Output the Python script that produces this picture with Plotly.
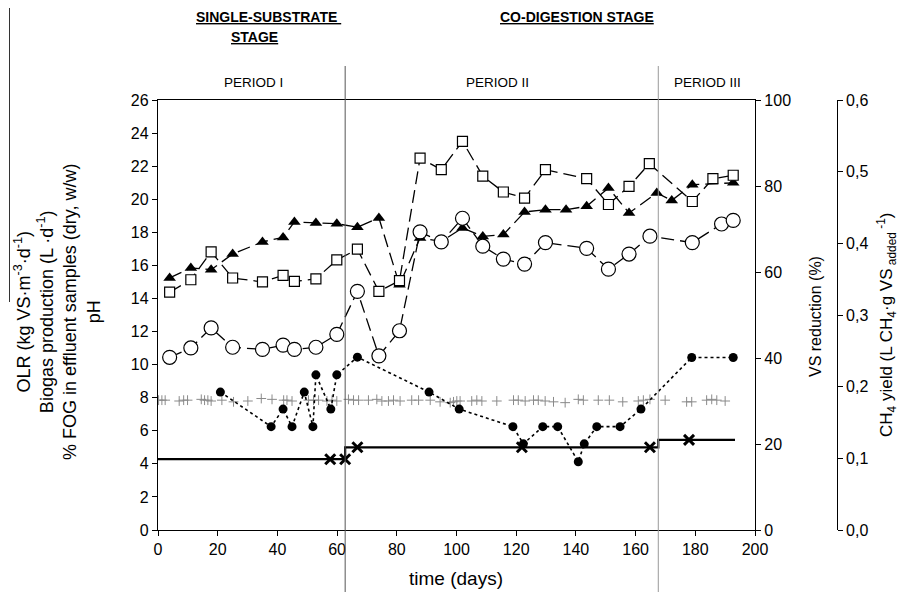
import plotly.graph_objects as go

# ---------------- data ----------------
tri_days = [3.9, 11.0, 17.8, 25.0, 35.0, 41.9, 45.7, 52.9, 59.9, 66.8, 74.0, 80.9, 87.8, 94.9,
            102.0, 108.8, 115.7, 122.8, 129.8, 136.7, 143.6, 150.9, 157.8, 167.1, 172.1, 179.0, 192.7]
biogas = [15.24, 15.84, 15.74, 16.69, 17.42, 17.69, 18.63, 18.57, 18.52, 18.31, 18.87, 14.83, 17.66, 17.45,
          18.26, 17.75, 17.86, 19.23, 19.37, 19.37, 19.57, 20.68, 19.17, 20.38, 19.93, 20.88, 20.99]

sq_days = [3.9, 11.0, 17.8, 25.0, 35.0, 41.9, 45.7, 52.9, 59.9, 66.8, 74.0, 80.9, 87.8, 94.9,
           102.0, 108.8, 115.7, 122.8, 129.8, 143.6, 150.9, 157.8, 164.6, 179.0, 185.9, 192.7]
vs_red = [55.3, 58.2, 64.7, 58.6, 57.7, 59.2, 57.8, 58.4, 62.8, 65.3, 55.5, 58.0, 86.5, 83.8,
          90.4, 82.3, 78.6, 77.2, 83.8, 81.7, 75.7, 79.9, 85.2, 76.4, 81.7, 82.5]

ci_days = [3.9, 11.0, 17.8, 25.0, 35.0, 41.9, 45.7, 52.9, 59.9, 66.8, 74.0, 80.9, 87.8, 94.9,
           102.0, 108.8, 115.7, 122.8, 129.8, 143.6, 150.9, 157.8, 164.8, 179.0, 188.8, 192.7]
ch4_yield = [0.241, 0.254, 0.282, 0.255, 0.252, 0.258, 0.252, 0.255, 0.273, 0.333, 0.243, 0.278, 0.416, 0.402,
             0.435, 0.396, 0.378, 0.371, 0.401, 0.393, 0.364, 0.385, 0.410, 0.401, 0.427, 0.432]

fog_days = [20.9, 37.9, 41.9, 44.9, 49.0, 51.9, 52.9, 57.9, 59.9, 66.8, 90.8, 100.9, 118.9, 122.4,
            128.9, 133.9, 140.8, 142.8, 147.0, 154.8, 161.8, 178.8, 192.7]
fog = [8.34, 6.25, 7.31, 6.25, 8.34, 6.25, 9.38, 7.31, 9.38, 10.45, 8.34, 7.31, 6.25, 5.21,
       6.25, 6.25, 4.13, 5.21, 6.25, 6.25, 7.31, 10.43, 10.43]

ph_days = [0.2, 1.3, 2.4, 7.1, 8.6, 9.9, 14.5, 15.6, 16.7, 17.8, 21.4, 25.3, 30.1, 34.6, 38.2, 42.1,
           43.2, 44.9, 50.4, 52.1, 53.8, 56.6, 58.3, 59.9,
           63.8, 65.5, 67.2, 70.5, 73.3, 75.0, 77.2, 78.9, 81.1, 85.0, 87.3, 91.2, 94.5, 97.9, 99.0,
           100.1, 101.2, 105.1, 106.8, 108.5, 113.5, 119.1, 120.7, 123.0, 125.8, 127.4, 129.7, 132.5,
           136.4, 140.8, 142.5, 147.5, 151.2, 155.7, 160.9, 162.6, 164.8,
           169.9, 177.1, 178.8, 183.8, 185.5, 187.2, 190.0]
ph = [7.85, 7.85, 7.85, 7.8, 7.85, 7.85, 7.9, 7.85, 7.85, 7.8, 7.85, 7.75, 7.8, 7.95, 7.9, 7.85,
      7.85, 7.8, 7.85, 7.85, 7.85, 7.8, 7.85, 7.8,
      7.9, 7.85, 7.85, 7.85, 7.9, 7.8, 7.8, 7.85, 7.8, 7.85, 7.85, 7.85, 7.75, 7.7, 7.75,
      7.8, 7.8, 7.8, 7.85, 7.8, 7.8, 7.85, 7.85, 7.8, 7.85, 7.85, 7.8, 7.75,
      7.7, 7.9, 7.85, 7.85, 7.85, 7.75, 7.8, 7.85, 7.9,
      7.85, 7.75, 7.75, 7.85, 7.9, 7.85, 7.8]

olr_days = [0, 62.7, 167.6, 193.3]
olr = [4.28, 5.0, 5.45, 5.45]
olr_pt_days = [57.7, 62.7, 66.8, 121.9, 164.8, 177.9]
olr_pt = [4.28, 4.28, 5.0, 5.0, 5.0, 5.45]

period_bounds = [62.7, 167.6]
period_labels = ["PERIOD I", "PERIOD II", "PERIOD III"]
left_ticks = list(range(0, 27, 2))
vs_ticks = [0, 20, 40, 60, 80, 100]
ch4_ticks = [0.0, 0.1, 0.2, 0.3, 0.4, 0.5, 0.6]
ch4_ticktext = ["0,0", "0,1", "0,2", "0,3", "0,4", "0,5", "0,6"]
x_ticks = list(range(0, 201, 20))

# ---------------- layout geometry ----------------
# page has an 8px body margin; figure sized to fit inside the window
OFF = 8
W, H = 914 - 2 * OFF, 603 - 2 * OFF
ML, MT = 158 - OFF, 100 - OFF
PH = 430
MB = H - MT - PH
MR = 8
PW = W - ML - MR
XDOM = 597 / PW


def px(xp):
    """page pixel x -> paper fraction"""
    return (xp - OFF - ML) / PW


def py(yp):
    """page pixel y -> paper fraction"""
    return 1 - (yp - OFF - MT) / PH


FONT = "Liberation Sans, Arial, sans-serif"
NARROW = "Liberation Sans Narrow, Arial Narrow, Liberation Sans, Arial, sans-serif"

fig = go.Figure()

dash = "13px,6px"

fig.add_trace(go.Scatter(
    x=ph_days, y=ph, mode="markers", name="pH",
    marker=dict(symbol="cross-thin-open", size=7, color="#8a8a8a",
                line=dict(color="#8a8a8a", width=1)),
))
fig.add_trace(go.Scatter(
    x=fog_days, y=fog, mode="lines+markers", name="FOG",
    line=dict(color="black", width=1.6, dash="dot"),
    marker=dict(symbol="circle", size=9, color="black"),
))
fig.add_trace(go.Scatter(
    x=olr_days, y=olr, mode="lines", name="OLR", line_shape="hv",
    line=dict(color="black", width=2.2),
))
fig.add_trace(go.Scatter(
    x=olr_pt_days, y=olr_pt, mode="markers", name="OLR pts",
    marker=dict(symbol="x-thin-open", size=10, color="black", line=dict(color="black", width=3)),
))
fig.add_trace(go.Scatter(
    x=ci_days, y=ch4_yield, mode="lines+markers", name="CH4 yield", yaxis="y3",
    line=dict(color="black", width=1.3, dash=dash),
    marker=dict(symbol="circle", size=14, color="white", line=dict(color="black", width=1.2)),
))
fig.add_trace(go.Scatter(
    x=sq_days, y=vs_red, mode="lines+markers", name="VS reduction", yaxis="y2",
    line=dict(color="black", width=1.3, dash=dash),
    marker=dict(symbol="square", size=10, color="white", line=dict(color="black", width=1.2)),
))
fig.add_trace(go.Scatter(
    x=tri_days, y=biogas, mode="lines+markers", name="Biogas",
    line=dict(color="black", width=1.3, dash=dash),
    marker=dict(symbol="triangle-up", size=11, color="black"),
))

shapes = []
for b, col in zip(period_bounds, ["#555555", "#999999"]):
    shapes.append(dict(type="line", xref="x", yref="paper", x0=b, x1=b,
                       y0=py(592), y1=py(66), line=dict(color=col, width=1)))
# overline mark at far left
shapes.append(dict(type="line", xref="paper", yref="paper", x0=px(9.5), x1=px(9.5),
                   y0=py(8), y1=py(302), line=dict(color="#333333", width=1)))


def ann(text, xp, yp, size, angle=0, family=FONT):
    return dict(text=text, x=px(xp), y=py(yp), xref="paper", yref="paper",
                xanchor="center", yanchor="middle", showarrow=False, textangle=angle,
                font=dict(family=family, size=size, color="black"))


annotations = []
for lab, xc in zip(period_labels, [253, 497, 707]):
    annotations.append(ann(lab, xc, 82, 13.5))
annotations.append(ann("<b><u>SINGLE-SUBSTRATE </u></b>", 268, 17, 14, family=NARROW))
annotations.append(ann("<b><u>STAGE</u></b>", 254, 37, 14, family=NARROW))
annotations.append(ann("<b><u>CO-DIGESTION STAGE</u></b>", 577, 17, 14, family=NARROW))
annotations.append(ann(
    "OLR (kg VS·m<sup>-3</sup>·d<sup>-1</sup>)<br>Biogas production (L ·d<sup>-1</sup>)"
    "<br>% FOG in effluent samples (dry, w/w)<br>pH", 57, 312, 18, angle=-90))
annotations.append(ann("VS reduction (%)", 815, 317, 16, angle=-90))
annotations.append(ann(
    "CH<sub>4</sub> yield (L CH<sub>4</sub>·g VS<sub> added</sub><sup> -1</sup>)",
    886, 325, 17, angle=-90))
annotations.append(ann("time (days)", 456, 578, 19))

axis_common = dict(showgrid=False, zeroline=False, showline=True, linecolor="black", linewidth=1.3,
                   ticks="outside", ticklen=5, tickwidth=1.3, tickcolor="black", automargin=False,
                   tickfont=dict(family=FONT, size=16, color="black"))

fig.update_layout(
    width=W, height=H,
    margin=dict(l=ML, r=MR, t=MT, b=MB, autoexpand=False),
    plot_bgcolor="white", paper_bgcolor="white",
    showlegend=False,
    xaxis=dict(domain=[0, XDOM], range=[0, 200], tickvals=x_ticks, mirror=True, **axis_common),
    yaxis=dict(range=[0, 26], tickvals=left_ticks, **axis_common),
    yaxis2=dict(range=[0, 100], tickvals=vs_ticks, overlaying="y", side="right", anchor="x",
                **axis_common),
    yaxis3=dict(range=[0, 0.6], tickvals=ch4_ticks, ticktext=ch4_ticktext, overlaying="y",
                side="right", anchor="free", position=px(836.7), **axis_common),
    shapes=shapes,
    annotations=annotations,
)

fig.write_html("out.html")
